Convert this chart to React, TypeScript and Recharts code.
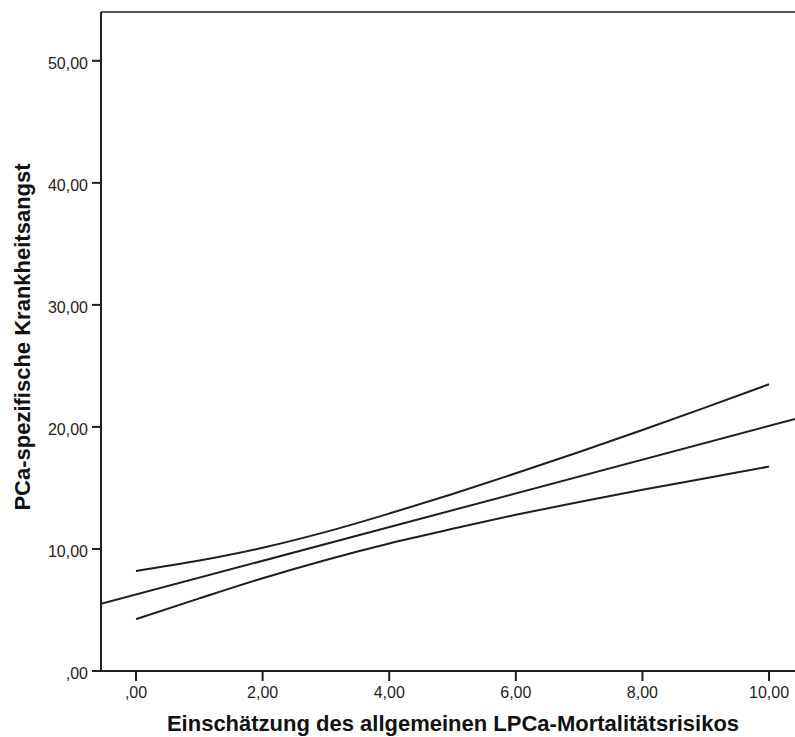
import React from 'react'
import { LineChart, Line, XAxis, YAxis, ReferenceLine } from 'recharts'

// risk estimate (x) -> fitted anxiety score with 95% confidence band
const bandX = [0, 1, 2, 3, 4, 5, 6, 7, 8, 9, 10]
const upperCI = [8.2, 9.05, 10.1, 11.4, 12.9, 14.5, 16.2, 17.95, 19.75, 21.6, 23.5]
const lowerCI = [4.25, 5.95, 7.6, 9.1, 10.45, 11.65, 12.8, 13.85, 14.85, 15.8, 16.75]

const fitX = [-0.553, 10.41]
const fitY = [5.5, 20.65]

const xTicks = [0, 2, 4, 6, 8, 10]
const yTicks = [0, 10, 20, 30, 40, 50]

const xTitle = 'Einschätzung des allgemeinen LPCa-Mortalitätsrisikos'
const yTitle = 'PCa-spezifische Krankheitsangst'

const upperData = bandX.map((x, i) => ({ x, y: upperCI[i] }))
const lowerData = bandX.map((x, i) => ({ x, y: lowerCI[i] }))
const fitData = fitX.map((x, i) => ({ x, y: fitY[i] }))

const fmt = (v: number) => {
  const s = v.toFixed(2).replace('.', ',')
  return s.startsWith('0,') ? s.slice(1) : s
}

const font = '"Liberation Sans", Arial, sans-serif'
const ink = '#1e1e1e'

const XTick = ({ x, y, payload }: any) => (
  <text x={x} y={y} dy={11} textAnchor="middle" fontFamily={font} fontSize={16} fill={ink}>
    {fmt(payload.value)}
  </text>
)

const YTick = ({ x, y, payload }: any) => (
  <text x={x} y={y} dy={8} textAnchor="end" fontFamily={font} fontSize={16} fill={ink}>
    {fmt(payload.value)}
  </text>
)

export default function App() {
  return (
    <div style={{ position: 'relative', width: 795, height: 737, overflow: 'hidden', background: '#fff' }}>
      <style>{'body{margin:0;overflow:hidden}'}</style>
      <LineChart width={795} height={737} margin={{ top: 12, right: 0, bottom: 0, left: 0 }}>
        <XAxis
          type="number"
          dataKey="x"
          domain={[-0.553, 10.41]}
          ticks={xTicks}
          allowDataOverflow
          height={66}
          tickSize={10}
          tickMargin={6}
          stroke={ink}
          strokeWidth={2}
          tick={<XTick />}
        />
        <YAxis
          type="number"
          domain={[0, 54]}
          ticks={yTicks}
          allowDataOverflow
          width={101}
          tickSize={9}
          tickMargin={4}
          stroke={ink}
          strokeWidth={2}
          tick={<YTick />}
        />
        <ReferenceLine y={54} stroke="#555" strokeWidth={2} />
        <Line data={fitData} dataKey="y" type="linear" stroke={ink} strokeWidth={2} dot={false} isAnimationActive={false} />
        <Line data={upperData} dataKey="y" type="monotone" stroke={ink} strokeWidth={2} dot={false} isAnimationActive={false} />
        <Line data={lowerData} dataKey="y" type="monotone" stroke={ink} strokeWidth={2} dot={false} isAnimationActive={false} />
      </LineChart>
      <div style={{ position: 'absolute', left: 106, width: 694, top: 711, lineHeight: '26px', textAlign: 'center', fontFamily: font, fontWeight: 'bold', fontSize: 22, color: '#111', whiteSpace: 'nowrap' }}>
        {xTitle}
      </div>
      <div
        style={{
          position: 'absolute', left: 23, top: 337, transform: 'translate(-50%, -50%) rotate(-90deg)',
          lineHeight: '26px', fontFamily: font, fontWeight: 'bold', fontSize: 22, color: '#111', whiteSpace: 'nowrap',
        }}
      >
        {yTitle}
      </div>
    </div>
  )
}
